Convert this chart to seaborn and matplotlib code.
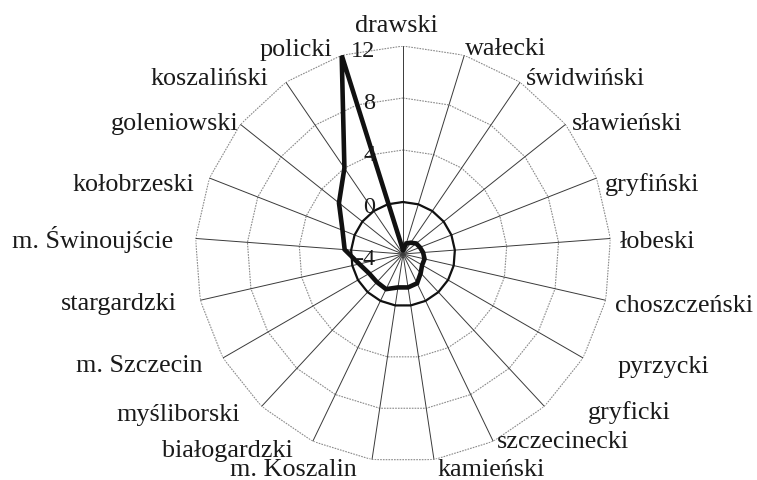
import numpy as np
import matplotlib
matplotlib.use("Agg")
import matplotlib.pyplot as plt
import seaborn as sns
import pandas as pd

# Districts in clockwise order, starting from the top spoke
districts = ["drawski", "wałecki", "świdwiński", "sławieński", "gryfiński",
             "łobeski", "choszczeński", "pyrzycki", "gryficki", "szczecinecki",
             "kamieński", "m. Koszalin", "białogardzki", "myśliborski",
             "m. Szczecin", "stargardzki", "m. Świnoujście", "kołobrzeski",
             "goleniowski", "koszaliński", "policki"]
index_values = [-3.7, -3.15, -2.95, -2.7, -2.6,
                -2.45, -2.3, -2.3, -2.0, -1.5,
                -1.4, -1.4, -1.0, -1.05,
                -1.0, -0.55, 0.5, 1.0,
                2.3, 4.0, 12.0]
reference_values = [0] * len(districts)
radial_ticks = [-4, 0, 4, 8, 12]
radial_tick_labels = ["-4", "0", "4", "8", "12"]

# Label layout: (horizontal alignment, x px, baseline y px)
label_layout = [("center", 396, 32), ("left", 465, 55), ("left", 526, 85),
                ("left", 572, 130), ("left", 605, 191), ("left", 620, 248),
                ("left", 615, 312), ("left", 618, 373), ("left", 588, 419),
                ("left", 497, 448), ("center", 491, 476), ("center", 293, 476),
                ("right", 293, 457), ("right", 240, 421), ("right", 202, 372),
                ("right", 177, 310), ("right", 173, 248), ("right", 194, 191),
                ("right", 238, 130), ("right", 268, 85), ("right", 332, 56)]

sns.set_style("white")
plt.rcParams["font.family"] = ["Liberation Serif", "DejaVu Serif"]

W, H = 757, 480
fig = plt.figure(figsize=(W / 100, H / 100), dpi=100)
cx, cy, R = 403, 254, 208
ax = fig.add_axes([(cx - R) / W, (H - cy - R) / H, 2 * R / W, 2 * R / H],
                  projection="polar")
ax.set_theta_offset(np.pi / 2)
ax.set_theta_direction(-1)
ax.set_rlim(radial_ticks[0], radial_ticks[-1])
ax.grid(False)
ax.spines["polar"].set_visible(False)
ax.set_xticks([])
ax.set_yticks([])
ax.patch.set_alpha(0)

n = len(districts)
theta = np.arange(n) * 2 * np.pi / n
theta_closed = np.append(theta, 2 * np.pi)

# Polygonal grid rings
for r in radial_ticks[1:]:
    ax.plot(theta_closed, [r] * (n + 1), color="#8a8a8a", lw=0.8,
            ls=(0, (1.5, 1.0)), zorder=1)
# Spokes
for t in theta:
    ax.plot([t, t], [radial_ticks[0], radial_ticks[-1]], color="#3a3a3a",
            lw=0.7, zorder=1)

df = pd.DataFrame({
    "theta": theta_closed,
    "index": index_values + index_values[:1],
    "reference": reference_values + reference_values[:1],
})
sns.lineplot(data=df, x="theta", y="reference", ax=ax, sort=False,
             color="#111111", lw=1.6, zorder=3)
sns.lineplot(data=df, x="theta", y="index", ax=ax, sort=False,
             color="#111111", lw=3.3, zorder=4, solid_joinstyle="miter")
ax.set_xlabel("")
ax.set_ylabel("")

# Radial tick labels along the top spoke
for r, lab in zip(radial_ticks, radial_tick_labels):
    ax.annotate(lab, xy=(0, r), xytext=(-20.0, -8.0), textcoords="offset points",
                ha="right", va="baseline", fontsize=17.5, color="#1a1a1a",
                zorder=5)

for name, (ha, x, y) in zip(districts, label_layout):
    fig.text(x / W, 1 - y / H, name, ha=ha, va="baseline", fontsize=18.8,
             color="#1a1a1a")

fig.savefig("out.png", dpi=100, facecolor="white")
